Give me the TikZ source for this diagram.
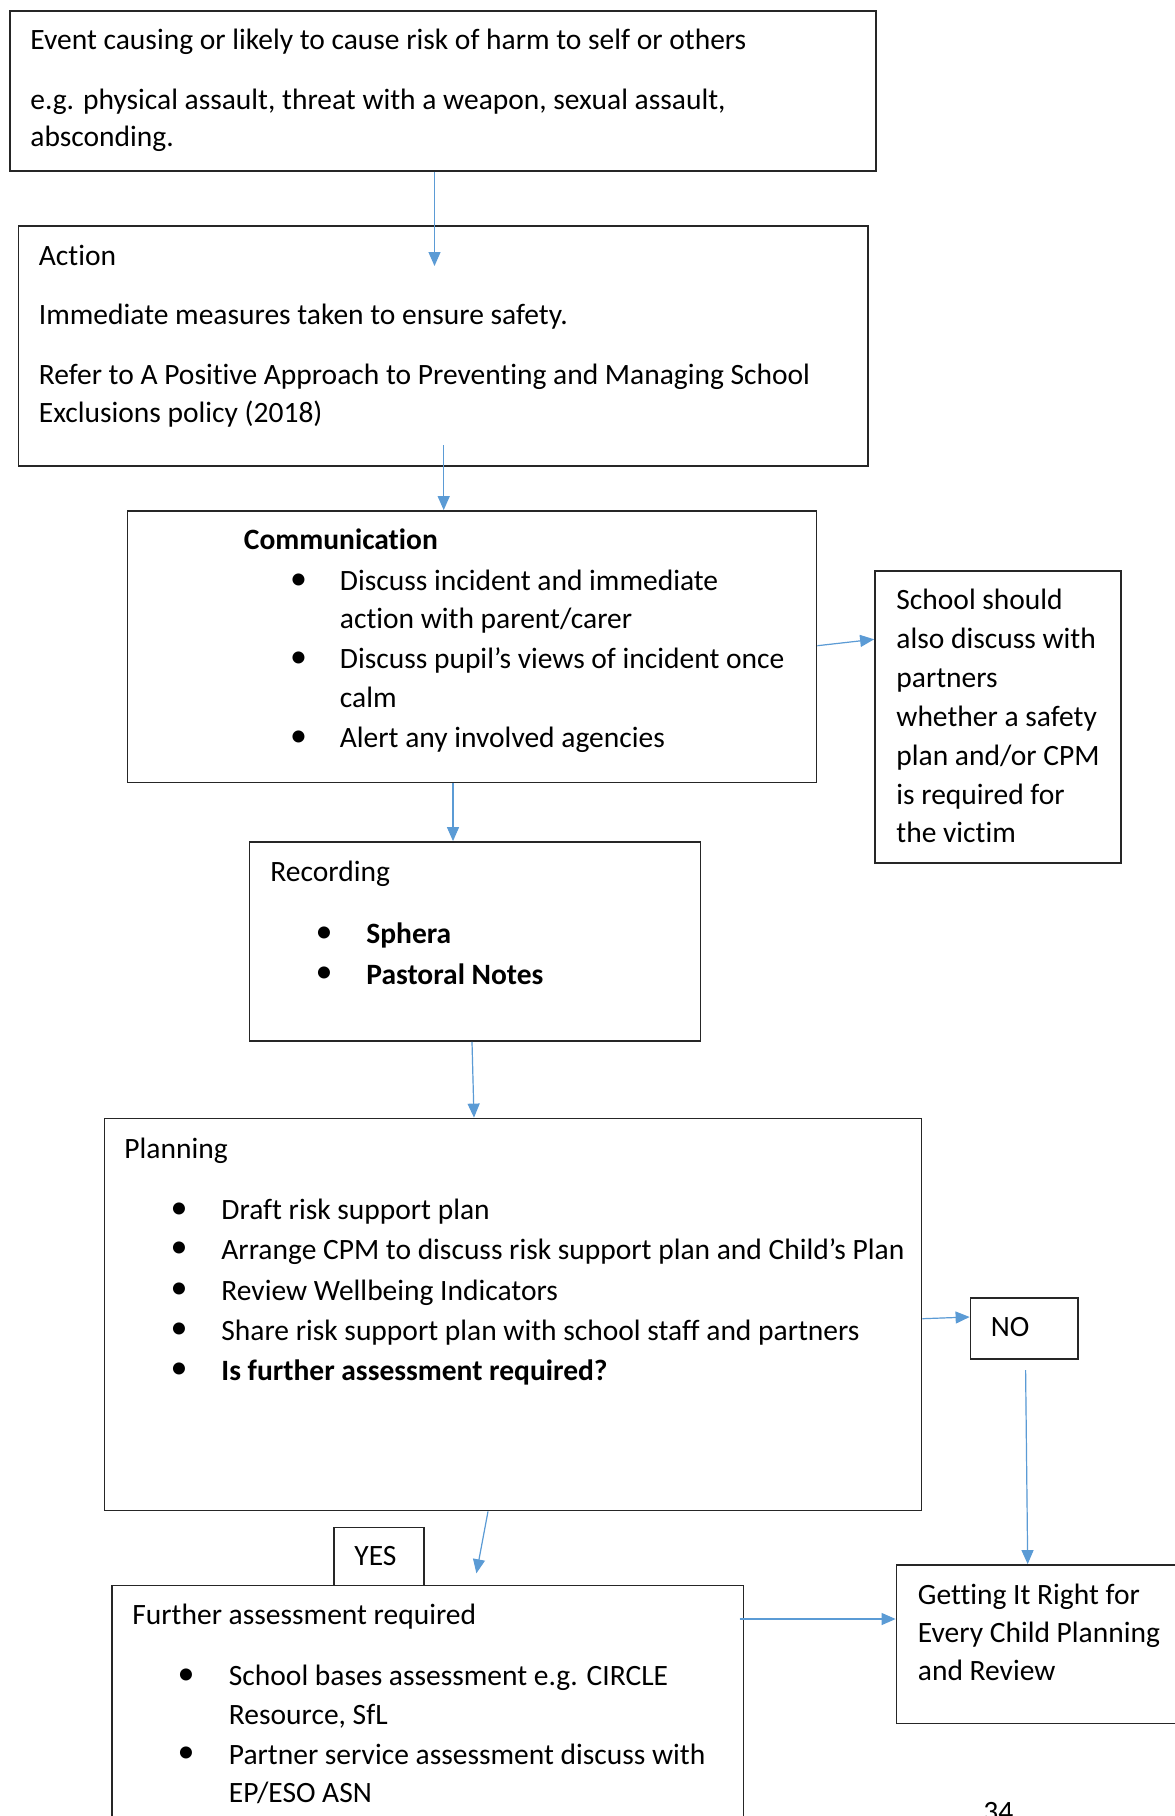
\documentclass[tikz,border=0pt]{standalone}
\usepackage{fontspec}
\setmainfont{Carlito}[Ligatures=NoCommon]
\usetikzlibrary{arrows.meta,fit}
\definecolor{arrowblue}{HTML}{5B9BD5}
\begin{document}
\begin{tikzpicture}[x=0.5pt,y=-0.5pt,
  box/.style={draw=black!85, line width=0.9pt, inner sep=0pt, rectangle},
  t/.style={anchor=west, inner sep=0pt, text height=12pt, text depth=3pt, font=\fontsize{14.75}{17}\selectfont},
  tb/.style={t, font=\fontsize{14.75}{17}\selectfont\bfseries},
  bul/.style={anchor=center, inner sep=0pt, font=\fontsize{17}{17}\selectfont},
  arr/.style={draw=arrowblue, line width=0.6pt, -{Triangle[length=7pt,width=6pt]}, fill=arrowblue, shorten >=0pt}]
\useasboundingbox (0,0) rectangle (1174,1816);
\fill[white] (0,0) rectangle (1174,1816);

% ---------- boxes ----------
\node[box, fit={(10,11) (876,171)}] (event) {};
\node[box, fit={(18.5,226) (868,466)}] (action) {};
\node[box, fit={(127.5,511) (816.5,782.5)}] (comm) {};
\node[box, fit={(875,571) (1121,863)}] (safety) {};
\node[box, fit={(249.5,842) (700.5,1041)}] (rec) {};
\node[box, fit={(104.5,1118.5) (921.5,1510.5)}] (plan) {};
\node[box, fit={(970.5,1298) (1078,1359)}] (no) {};
\node[box, fit={(334,1527.5) (424,1585.5)}] (yes) {};
\node[box, fit={(112,1585.5) (743.5,1840)}] (further) {};
\node[box, fit={(896.5,1565) (1190,1723.5)}] (girfec) {};

% ---------- texts ----------
\node[t] (e1) at (30,40) {Event causing or likely to cause risk of harm to self or others};
\node[t] (e2) at (30,100) {e.g. physical assault, threat with a weapon, sexual assault,};
\node[t] (e3) at (30,137) {absconding.};

\node[t] (ac1) at (38.5,256) {Action};
\node[t] (ac2) at (38.5,315) {Immediate measures taken to ensure safety.};
\node[t] (ac3) at (38.5,375) {Refer to A Positive Approach to Preventing and Managing School};
\node[t] (ac4) at (38.5,413) {Exclusions policy (2018)};

\node[tb] (c0) at (243.5,540) {Communication};
\node[bul] (cb1) at (298.5,581.5) {•};
\node[t] (c1) at (339.5,581.5) {Discuss incident and immediate};
\node[t] (c2) at (339.5,619.5) {action with parent/carer};
\node[bul] (cb2) at (298.5,659.5) {•};
\node[t] (c3) at (339.5,659.5) {Discuss pupil’s views of incident once};
\node[t] (c4) at (339.5,698) {calm};
\node[bul] (cb3) at (298.5,738.5) {•};
\node[t] (c5) at (339.5,738.5) {Alert any involved agencies};

\node[t] (s1) at (896,600) {School should};
\node[t] (s2) at (896,639) {also discuss with};
\node[t] (s3) at (896,678) {partners};
\node[t] (s4) at (896,717) {whether a safety};
\node[t] (s5) at (896,756) {plan and/or CPM};
\node[t] (s6) at (896,795) {is required for};
\node[t] (s7) at (896,833) {the victim};

\node[t] (r0) at (270,872.5) {Recording};
\node[bul] (rb1) at (324,934.5) {•};
\node[tb] (r1) at (366,934.5) {Sphera};
\node[bul] (rb2) at (324,975) {•};
\node[tb] (r2) at (366,975) {Pastoral Notes};

\node[t] (p0) at (124,1149) {Planning};
\node[bul] (pb1) at (179,1210.5) {•};
\node[t] (p1) at (221,1210.5) {Draft risk support plan};
\node[bul] (pb2) at (179,1250) {•};
\node[t] (p2) at (221,1250) {Arrange CPM to discuss risk support plan and Child’s Plan};
\node[bul] (pb3) at (179,1291) {•};
\node[t] (p3) at (221,1291) {Review Wellbeing Indicators};
\node[bul] (pb4) at (179,1331) {•};
\node[t] (p4) at (221,1331) {Share risk support plan with school staff and partners};
\node[bul] (pb5) at (179,1371) {•};
\node[tb] (p5) at (221,1371) {Is further assessment required?};

\node[t] (not) at (990.5,1327) {NO};
\node[t] (yest) at (354,1556) {YES};

\node[t] (f0) at (132,1615) {Further assessment required};
\node[bul] (fb1) at (186,1676.5) {•};
\node[t] (f1) at (228.5,1676.5) {School bases assessment e.g. CIRCLE};
\node[t] (f2) at (228.5,1715) {Resource, SfL};
\node[bul] (fb2) at (186,1755) {•};
\node[t] (f3) at (228.5,1755) {Partner service assessment discuss with};
\node[t] (f4) at (228.5,1793) {EP/ESO ASN};

\node[t] (g1) at (917.5,1595.5) {Getting It Right for};
\node[t] (g2) at (917.5,1633.5) {Every Child Planning};
\node[t] (g3) at (917.5,1671.5) {and Review};

\node[t] (pg) at (983,1812) {34};

% ---------- connectors ----------
\coordinate (a1e) at (434.5,266);
\draw[arr] (event.south -| a1e) -- (a1e);
\coordinate (a2s) at (443.7,445);
\draw[arr] (a2s) -- (comm.north -| a2s);
\draw[arr] (comm.east |- 0,645.7) -- (safety.west |- 0,639.3);
\draw[arr] (comm.south -| 453,0) -- (rec.north -| 453,0);
\draw[arr] (rec.south -| 472,0) -- (plan.north -| 474,0);
\draw[arr] (plan.east |- 0,1318.7) -- (no.west |- 0,1317);
\coordinate (a7s) at (1025.6,1370);
\draw[arr] (a7s) -- (girfec.north -| 1027.7,0);
\coordinate (a8e) at (476.4,1573.3);
\draw[arr] (plan.south -| 488,0) -- (a8e);
\coordinate (a9s) at (739.5,1619);
\draw[arr] (a9s) -- (girfec.west |- a9s);
\end{tikzpicture}
\end{document}
